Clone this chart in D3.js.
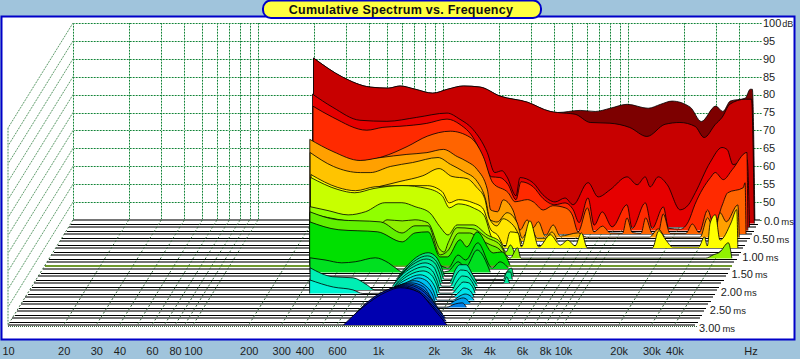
<!DOCTYPE html>
<html>
<head>
<meta charset="utf-8">
<script src="https://cdn.jsdelivr.net/npm/d3@7"></script>
<style>
  html, body { margin: 0; padding: 0; background: #a0c4dc; }
  svg { display: block; }
  text { font-family: "Liberation Sans", Arial, sans-serif; fill: #1c1c1c; }
</style>
</head>
<body>
<div id="chart"></div>
<script>
const gridFreqs = [10,20,30,40,50,60,70,80,90,100,200,300,400,500,600,700,800,900,1000,2000,3000,4000,5000,6000,7000,8000,9000,10000,20000,30000,40000];
const freqTicks = [10,20,30,40,60,80,100,200,300,400,600,1000,2000,3000,4000,6000,8000,10000,20000,30000,40000];
const dbTicks = [100,95,90,85,80,75,70,65,60,55,50];
const msTicks = [0,0.5,1,1.5,2,2.5,3];

// one list per time slice, [Hz, dB] (0.1 ms apart)
const s00 = [[200,90.2],[286,84.9],[403,82.1],[505,81.8],[586,82.4],[707,81.5],[880,80.4],[1060,81.5],[1290,82.4],[1586,82.1],[2030,79.6],[2850,77.9],[3794,75.3],[4150,75],[5513,75.6],[6650,75.3],[8012,76.2],[9900,77.3],[12850,76.2],[15000,77.3],[17300,78.2],[21700,76.5],[24900,72.5],[29800,76.8],[32550,75.3],[35700,78.2],[43000,79],[45800,81.5],[47000,81.5],[48500,45]];
const s01 = [[205,91.2],[294,85.9],[414,83.1],[519,82.8],[602,83.4],[726,82.5],[904,81.4],[1089,82.5],[1325,83.4],[1629,83.1],[2085,80.6],[2927,78.9],[3897,76.3],[4262,76],[5320,75.5],[6420,73.2],[8200,73],[10500,71.8],[13000,69.3],[16300,72.7],[19600,73.2],[23700,72.1],[26500,69],[30500,72.7],[33100,74.6],[36500,78.3],[44200,79.7],[47800,79.7],[49500,45]];
const s02 = [[208,82.1],[268,78.4],[375,74.8],[525,74.5],[760,75.6],[1110,76.8],[1300,75.1],[1530,72.3],[1830,65.8],[2010,60.2],[2200,60.7],[2340,59],[2620,53.7],[2750,58.8],[3230,57.4],[3660,54],[4260,52],[4820,53.1],[5330,51.2],[6420,57.4],[7280,53.4],[8450,55.4],[10430,59],[11830,56.8],[13070,59],[13900,56.2],[15370,59],[17200,56.8],[20200,49.8],[22400,51.2],[24400,54.6],[29300,63],[34000,67.2],[36300,66.6],[39000,62.4],[46500,63.8],[47900,45]];
const s03 = [[215,79.7],[275,76.6],[420,73],[513,73.8],[635,74.1],[885,74.9],[1140,76.1],[1340,74.6],[1575,71],[1775,65.7],[1975,60],[2200,59.8],[2440,57.8],[2690,53.6],[2860,58.6],[3330,57.2],[3770,53.9],[4360,52.2],[4950,52.7],[5480,50.8],[5900,47.2],[6590,54.1],[7120,46.5],[7870,50.2],[8900,46],[10700,52.2],[11420,45.6],[13450,52.7],[14650,45.6],[16830,51.6],[17960,45.6],[20830,45.4],[23000,47.5],[24900,52.2],[30300,59.8],[32100,61.2],[35500,59.2],[39700,62],[47600,66.8],[48200,45]];
const s04 = [[216,68.6],[398,65.3],[527,66.6],[712,69.4],[915,72.3],[1220,73.7],[1560,72],[1840,66.6],[2070,59.3],[2510,56.5],[2730,54],[3190,54.6],[3420,54],[3880,51.7],[4370,52.9],[5100,52.3],[5570,50.3],[5990,45.6],[6720,52.3],[7290,45.6],[8110,47.2],[8940,45.3],[10400,45.2],[11000,49.5],[11760,45.4],[13100,45.2],[13880,49.5],[15080,45.2],[16200,45.2],[17270,50.6],[18800,45.2],[22900,45.2],[24800,47.8],[27000,45.4],[30000,51.7],[32500,47.2],[36000,53.1],[38500,56.5],[46700,57.9],[47800,59.3],[48400,45]];
const s05 = [[218,72.4],[291,69],[408,66.5],[522,67.3],[730,68.2],[937,68.7],[1150,69.6],[1365,67.6],[1545,66.2],[1750,64],[1990,58.3],[2070,52.7],[2260,52.2],[2420,55.5],[2730,52.7],[2990,47.1],[3260,49.9],[3510,47.7],[3750,49.4],[4090,45.4],[4510,48.5],[4920,45.4],[6170,46.3],[6810,45.1],[14930,45.1],[16680,47.4],[18300,45.1],[28080,45.1],[30800,50.5],[33700,46.5],[36000,51.9],[38900,49.4],[44900,54.1],[45700,45]];
const s06 = [[225,69.7],[301,65.8],[421,64.1],[475,64.1],[610,65.8],[805,66.9],[1105,68.3],[1290,66.4],[1520,64.4],[1800,61.6],[2000,56.5],[2115,50.9],[2305,50.3],[2610,52.9],[2957,50.1],[3150,45.8],[3480,49.2],[3794,45.8],[4200,45.8],[4560,47.5],[4867,45.3]];
const s07 = [[550,61.2],[707,62.6],[940,64.2],[1150,66.2],[1350,64],[1630,63.4],[1840,60.9],[2030,57.8],[2145,52.4],[2360,50.2],[2550,52.2],[2770,51.3],[3030,48.8],[3230,45.1]];
const s08 = [[240,65.5],[335,61.9],[418,61],[533,62.1],[745,62.4],[1020,62.4],[1230,60.7],[1340,57.6],[1505,58.5],[1810,57.6],[2030,56.2],[2250,50.1],[2440,48.7],[2690,45.3],[2860,49.5],[3160,49.2],[3290,45.3],[3660,52.6],[4090,45.3],[4720,48.7],[5340,45.8],[5870,47.2],[6420,45.6],[6950,49.2],[7490,45],[16800,45],[18200,49.8],[19900,47.2],[21600,45.3],[29900,45.3],[32100,48.1],[33300,45.6],[34500,52],[36800,54.3],[39000,47.2],[44700,52],[48000,55.7],[48700,45]];
const s09 = [[245,65.7],[345,62.3],[425,61.4],[540,62.6],[765,63.4],[1045,62.6],[1260,60.6],[1380,57.2],[1540,58.3],[1855,57.2],[2130,55],[2340,48.8],[2530,47.1],[2780,45.1]];
const s10 = [[250,58.5],[313,57.4],[402,56.2],[500,57.1],[635,59.6],[785,59.6],[925,58.5],[1110,56.8],[1260,52.9],[1395,50.6],[1560,53.4],[1905,53.4],[2270,50.6],[2660,48.7],[2860,45.8],[3030,47.8],[3200,45.2]];
const s11 = [[256,57.5],[615,54.7],[670,55.8],[810,55.5],[950,55.8],[1115,55],[1300,47.4],[1365,46.8],[1435,49.4],[1605,53.6],[1950,53.3],[2330,50.8],[2735,48.8],[2950,46],[3100,45.1],[3400,48],[3550,45.1],[35400,45.1],[38800,46],[42200,46.8],[46900,49.4],[49000,45.1]];
const s12 = [[264,59],[372,56.8],[635,56.2],[830,53.1],[975,55.1],[1150,55.1],[1335,47],[1465,48.1],[1680,53.1],[1925,53.1],[2200,51.2],[2490,49.8],[2810,48.4],[3065,45.3]];
const s13 = [[270,57.2],[385,55],[630,54.4],[855,51.6],[1003,54.1],[1180,54.4],[1370,47.4],[1500,47.4],[1755,52.2],[1910,50.2],[2170,54.4],[2650,48.5],[2960,48.8],[3270,45.1]];
const s14 = [[1165,45],[1245,48.9],[1405,46.1],[1555,45.3],[1760,48.9],[1935,47.5],[2250,52.3],[2690,45.3],[2965,47],[3290,45.3]];
const s15 = [[286,49.1],[345,48.5],[425,47.7],[503,48],[645,49.1],[760,47.7],[860,45.7],[915,45],[1450,45.1],[1600,45.4],[1810,48],[1985,46.5],[2290,51.3],[2700,45.1]];
const s16 = [[885,45],[960,47.2],[1110,50.3],[1280,51.5],[1415,50.3],[1510,47.5],[1580,45],[3250,45],[3470,46.7],[3610,47.2],[3700,45]];
const s17 = [[885,45.1],[975,47.4],[1135,50.5],[1300,51.6],[1435,50.5],[1535,47.7],[1605,45.1],[3345,45],[3510,47.1],[3660,47.1],[3750,45]];
const s18 = [[890,45],[975,47.5],[1150,50.6],[1320,51.7],[1465,50.6],[1555,47.8],[1620,45],[1755,45],[1895,48.7],[2000,50.1],[2165,50.1],[2360,47.2],[2520,45],[3440,45],[3580,46.7],[3720,45]];
const s19 = [[890,45.1],[980,47.7],[1155,50.5],[1335,51.6],[1485,50.5],[1570,47.7],[1645,45.1],[1825,45.1],[1955,48],[2080,49.6],[2240,49.4],[2435,46.8],[2560,45.1]];
const s20 = [[328,51.2],[435,48.7],[560,48.4],[667,46.4],[735,45],[895,45],[985,47.5],[1155,50.3],[1355,51.5],[1505,50.3],[1595,47.5],[1660,45],[1905,45],[2030,47.2],[2180,48.9],[2320,48.7],[2500,46.7],[2590,45]];
const s21 = [[335,48.8],[450,46.8],[575,46],[650,45],[895,45.1],[985,47.4],[1160,50.2],[1375,51.3],[1525,50.2],[1630,47.4],[1690,45.1],[1965,45.1],[2120,46.8],[2265,48.2],[2420,48],[2575,46.3],[2630,45.1]];
const s22 = [[895,45],[985,47.5],[1160,50],[1360,51.2],[1530,50],[1645,47.5],[1710,45],[2035,45],[2215,46.4],[2345,47.5],[2510,47],[2665,45]];
const s23 = [[962,45.1],[1090,48.5],[1235,50.5],[1365,51.3],[1515,50.5],[1650,47.7],[1730,45.1],[2100,45.1],[2300,46.3],[2450,46.8],[2610,46.3],[2740,45.1]];
const s24 = [[930,45],[1027,48.7],[1195,50.9],[1335,51.5],[1520,50.3],[1680,47.5],[1755,45],[2045,45],[2250,46.1],[2460,46.7],[2680,45.3]];
const s25 = [[880,45.1],[990,49.1],[1155,51.3],[1315,51.9],[1540,50.8],[1695,47.7],[1825,45.1],[2050,45.1],[2285,46],[2495,46.3],[2625,45.1]];
const s26 = [[810,45],[955,49.5],[1110,51.7],[1295,52.6],[1560,51.2],[1765,48.1],[1935,45]];
const s27 = [[765,45.1],[915,49.6],[1075,52.2],[1300,53.3],[1580,51.9],[1835,48.5],[2065,45.1]];
const s28 = [[725,45],[860,49.8],[1080,52.9],[1305,54],[1600,52.3],[1890,48.9],[2190,45]];
const s29 = [[680,45.1],[830,49.9],[1065,53.6],[1315,54.7],[1650,52.7],[1925,49.4],[2275,45.1]];
const s30 = [[650,45],[835,50.1],[1115,54.3],[1320,55.4],[1640,54.3],[1980,49.8],[2360,45]];

const slices = [s00,s01,s02,s03,s04,s05,s06,s07,s08,s09,s10,s11,s12,s13,s14,s15,s16,s17,s18,s19,s20,s21,s22,s23,s24,s25,s26,s27,s28,s29,s30];
const sliceColors = ["#7d0000","#c80000","#e60000","#ff2a00","#ff6400","#ffa000","#ffc400","#ffe600","#ffff00","#c8ff00","#90ff00","#90f000","#60f000","#00e000","#00dc18","#00e020","#00e878","#00e890","#00e8a0","#00f0c0","#00eeb4","#00f4d4","#00e0e8","#00c0f0","#00a0f0","#0080e8","#0060e0","#0040d0","#0028c0","#0010b8","#0000b0"];

const width = 800;
const height = 359;

const x = d3.scaleLog().domain([10, 53000]).range([73, 762]);
const y = d3.scaleLinear().domain([45, 100]).range([220, 23]);
const depthX = d3.scaleLinear().domain([0, 3]).range([0, -65]);
const depthY = d3.scaleLinear().domain([0, 3]).range([0, 105]);
const xFront = d3.scaleLog().domain([10, 53000]).range([8, 697]);

const svg = d3.select("#chart").append("svg")
  .attr("width", width)
  .attr("height", height)
  .style("background", "#a0c4dc");

// panel
svg.append("rect")
  .attr("x", 1.5).attr("y", 16.5).attr("width", 793).attr("height", 323)
  .attr("fill", "white").attr("stroke", "#0000c8").attr("stroke-width", 2);

// title capsule
svg.append("rect")
  .attr("x", 263).attr("y", 0.5).attr("width", 278).attr("height", 17.5).attr("rx", 8)
  .attr("fill", "#ffff40").attr("stroke", "#0000c8").attr("stroke-width", 2);
svg.append("text")
  .attr("x", 401).attr("y", 13.5).attr("text-anchor", "middle")
  .style("font-size", "12.5px").style("font-weight", "bold").style("letter-spacing", "0.25px")
  .style("fill", "#111")
  .text("Cumulative Spectrum vs. Frequency");

// every wall line is a pale green line with dark green dots on it
function wallLine(x1, y1, x2, y2, dim) {
  svg.append("line")
    .attr("x1", x1).attr("y1", y1).attr("x2", x2).attr("y2", y2)
    .attr("stroke", dim ? "#d3e6d6" : "#bfe3c6");
  svg.append("line")
    .attr("x1", x1).attr("y1", y1).attr("x2", x2).attr("y2", y2)
    .attr("stroke", dim ? "#5f9a6c" : "#12803a")
    .attr("stroke-dasharray", "1.5,1.5");
}

// back wall
dbTicks.concat([45]).forEach((d) => {
  wallLine(x(10), Math.round(y(d)) + 0.5, x(53000), Math.round(y(d)) + 0.5);
});
gridFreqs.forEach((f) => {
  wallLine(Math.round(x(f)) + 0.5, y(100), Math.round(x(f)) + 0.5, y(45));
});

// left wall
dbTicks.forEach((d) => {
  wallLine(x(10), y(d), x(10) + depthX(3), y(d) + depthY(3), true);
});
wallLine(x(10) + depthX(3), y(100) + depthY(3), x(10) + depthX(3), y(45) + depthY(3) + 1, true);

// floor, one line per slice
slices.forEach((s, k) => {
  const t = k * 0.1;
  const thick = k === 13 || k % 2 === 0;
  const yy = Math.round(y(45) + depthY(t)) + (thick ? 0 : 0.5);
  svg.append("line")
    .attr("x1", x(10) + depthX(t)).attr("x2", x(52000) + depthX(t))
    .attr("y1", yy).attr("y2", yy)
    .attr("stroke", k === 13 ? "#6f9a2c" : (k % 2 === 0 ? "#747474" : "#000"))
    .attr("stroke-width", thick ? 2 : 1)
    .attr("shape-rendering", "crispEdges");
});

// floor rulings running toward the viewer
gridFreqs.forEach((f) => {
  svg.append("line")
    .attr("x1", x(f)).attr("y1", y(45))
    .attr("x2", x(f) + depthX(3)).attr("y2", y(45) + depthY(3))
    .attr("stroke", "#33663a").attr("stroke-dasharray", "2,2");
});
svg.append("line")
  .attr("x1", x(10) + depthX(3)).attr("x2", x(53000) + depthX(3))
  .attr("y1", y(45) + depthY(3) + 1.5).attr("y2", y(45) + depthY(3) + 1.5)
  .attr("stroke", "#33663a").attr("stroke-dasharray", "1,1");

// slices back to front
slices.forEach((s, k) => {
  const t = k * 0.1;
  const px = (d) => x(d[0]) + depthX(t);
  const py = (d) => y(d[1]) + depthY(t);
  const base = y(45) + depthY(t);

  const area = d3.area().x(px).y0(base).y1(py).curve(d3.curveMonotoneX);
  const line = d3.line().x(px).y(py).curve(d3.curveMonotoneX);

  svg.append("path").attr("d", area(s)).attr("fill", sliceColors[k]);
  svg.append("path").attr("d", line(s))
    .attr("fill", "none").attr("stroke", "#000").attr("stroke-opacity", 0.8).attr("stroke-width", 1);
  svg.append("line")
    .attr("x1", px(s[0])).attr("x2", px(s[0]))
    .attr("y1", py(s[0])).attr("y2", base)
    .attr("stroke", "#000").attr("stroke-opacity", 0.8);
});

// frequency axis
const xAxis = d3.axisBottom(xFront)
  .tickValues(freqTicks)
  .tickSize(0)
  .tickFormat((d) => (d >= 1000 ? d / 1000 + "k" : d));
svg.append("g")
  .attr("transform", "translate(0,344)")
  .call(xAxis)
  .call((g) => g.select(".domain").remove())
  .selectAll("text")
  .style("font-family", '"Liberation Sans", Arial, sans-serif')
  .style("font-size", "11px")
  .attr("fill", "#1c1c1c");
svg.append("text").attr("x", 751).attr("y", 355).attr("text-anchor", "middle")
  .style("font-size", "11px").text("Hz");

// dB labels
dbTicks.forEach((d) => {
  const lab = svg.append("text").attr("x", 763).attr("y", y(d)).attr("dy", "0.35em")
    .style("font-size", "11px").text(d);
  if (d === 100) lab.append("tspan").attr("dx", 1).style("font-size", "9px").text("dB");
});

// time labels
msTicks.forEach((t) => {
  svg.append("text").attr("x", 764 + depthX(t)).attr("y", 221 + t * 35.7).attr("dy", "0.35em")
    .style("font-size", "11px").text(t === 0 ? "0.0" : t.toFixed(2))
    .append("tspan").attr("dx", 2).style("font-size", "9.5px").text("ms");
});
</script>
</body>
</html>
